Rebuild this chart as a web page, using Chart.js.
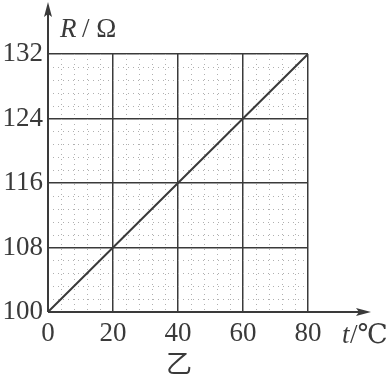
<!DOCTYPE html>
<html>
<head>
<meta charset="utf-8">
<script src="https://cdn.jsdelivr.net/npm/chart.js@4/dist/chart.umd.min.js"></script>
<style>
  html, body { margin: 0; padding: 0; background: #fff; }
  #wrap { width: 391px; height: 376px; }
</style>
</head>
<body>
<div id="wrap"><canvas id="chart" width="391" height="376"></canvas></div>
<script>
// data
var temps = [0, 20, 40, 60, 80];
var resist = [100, 108, 116, 124, 132];
var xTicks = [0, 20, 40, 60, 80];
var yTicks = [100, 108, 116, 124, 132];

var ink = '#3a3a3a';
var serif = '"Liberation Serif", "DejaVu Serif", serif';

// minor dotted grid, arrows, axis titles and caption
var decor = {
    id: 'decor',
    beforeDatasetsDraw: function (chart) {
        var c = chart.ctx, xs = chart.scales.x, ys = chart.scales.y;
        var a = chart.chartArea;
        c.save();
        c.strokeStyle = '#b0b0b0';
        c.lineWidth = 1;
        c.setLineDash([1, 4]);
        for (var v = 4; v < 80; v += 4) {
            if (v % 20 === 0) continue;
            var px = Math.round(xs.getPixelForValue(v)) + 0.5;
            c.beginPath(); c.moveTo(px, a.top); c.lineTo(px, a.bottom); c.stroke();
        }
        for (var i = 1; i < 20; i++) {
            if (i % 5 === 0) continue;
            var py = Math.round(ys.getPixelForValue(100 + i * 1.6)) + 0.5;
            c.beginPath(); c.moveTo(a.left, py); c.lineTo(a.right, py); c.stroke();
        }
        c.restore();
    },
    afterDraw: function (chart) {
        var c = chart.ctx, a = chart.chartArea;
        c.save();
        c.strokeStyle = ink;
        c.fillStyle = ink;
        c.lineWidth = 2;
        // axes
        c.beginPath();
        c.moveTo(a.left, a.bottom); c.lineTo(366, a.bottom);
        c.moveTo(a.left, a.bottom); c.lineTo(a.left, 8);
        c.stroke();
        // arrow heads
        c.beginPath();
        c.moveTo(371, a.bottom); c.lineTo(356, a.bottom - 4); c.lineTo(359, a.bottom); c.lineTo(356, a.bottom + 4);
        c.closePath(); c.fill();
        c.beginPath();
        c.moveTo(a.left, 2); c.lineTo(a.left - 4, 17); c.lineTo(a.left, 14); c.lineTo(a.left + 4, 17);
        c.closePath(); c.fill();
        // titles
        c.textBaseline = 'alphabetic';
        c.textAlign = 'left';
        c.font = 'italic 27px ' + serif;
        c.fillText('R', 60, 37);
        c.font = '27px ' + serif;
        c.fillText('/ Ω', 82, 37);
        c.font = 'italic 27px ' + serif;
        c.fillText('t', 342, 343);
        c.font = '27px ' + serif;
        c.fillText('/℃', 350, 343);
        c.font = '26px "Noto Sans CJK SC", sans-serif';
        c.textAlign = 'center';
        c.textBaseline = 'middle';
        c.fillText('乙', 179, 363);
        c.restore();
    }
};

new Chart(document.getElementById('chart'), {
    type: 'scatter',
    data: {
        datasets: [{
            data: temps.map(function (t, i) { return { x: t, y: resist[i] }; }),
            showLine: true,
            borderColor: ink,
            borderWidth: 2,
            pointRadius: 0,
            fill: false
        }]
    },
    options: {
        responsive: false,
        animation: false,
        layout: { padding: { left: 0, right: 83, top: 54, bottom: 0 } },
        plugins: { legend: { display: false }, tooltip: { enabled: false } },
        scales: {
            x: {
                type: 'linear', min: 0, max: 80,
                afterBuildTicks: function (s) { s.ticks = xTicks.map(function (v) { return { value: v }; }); },
                afterFit: function (s) { s.height = 64; },
                border: { display: false },
                grid: { color: ink, lineWidth: 1.5, drawTicks: false },
                ticks: { color: ink, padding: 6, font: { family: serif, size: 27 } }
            },
            y: {
                type: 'linear', min: 100, max: 132,
                afterBuildTicks: function (s) { s.ticks = yTicks.map(function (v) { return { value: v }; }); },
                afterFit: function (s) { s.width = 48; },
                border: { display: false },
                grid: { color: ink, lineWidth: 1.5, drawTicks: false },
                ticks: { color: ink, padding: 5, font: { family: serif, size: 27 } }
            }
        }
    },
    plugins: [decor]
});
</script>
</body>
</html>
